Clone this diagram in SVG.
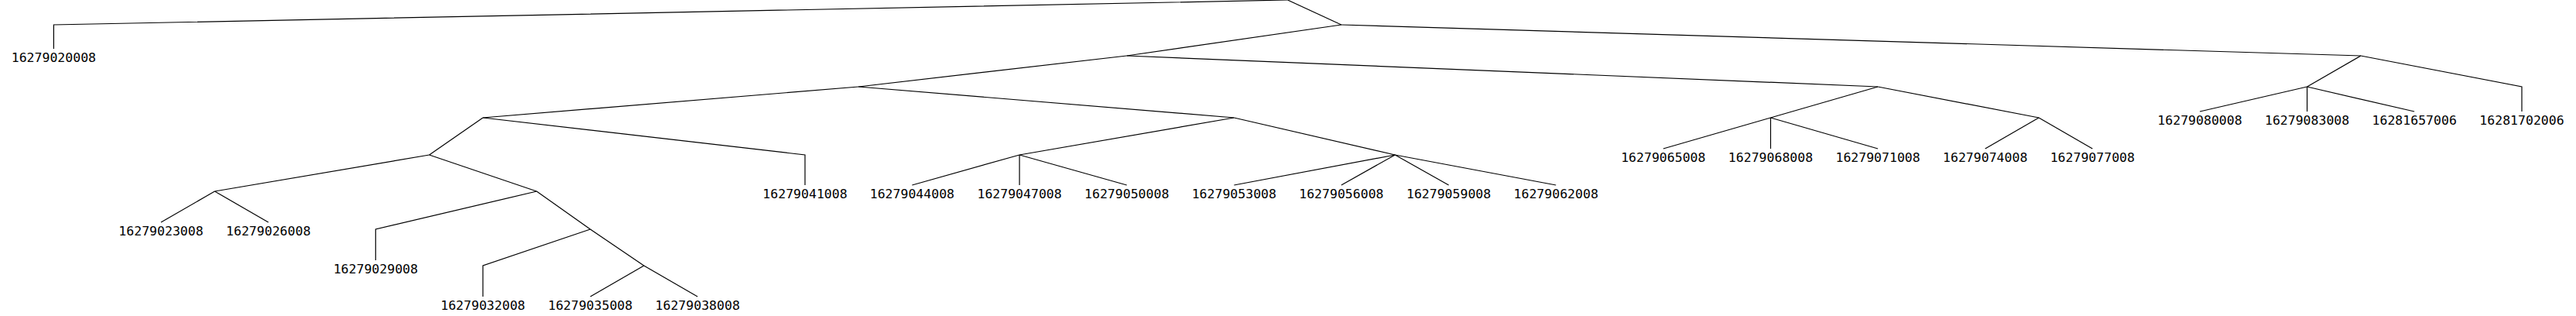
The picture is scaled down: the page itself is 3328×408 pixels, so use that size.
<svg xmlns="http://www.w3.org/2000/svg" width="3328" height="408" viewBox="0 0 3328 408">
<style>
.e{fill:none;stroke:#000;stroke-width:1.2}
.l{font-family:"DejaVu Sans Mono","Liberation Mono",monospace;font-size:16.5px;fill:#000;text-anchor:middle}
</style>
<rect width="3328" height="408" fill="#fff"/>
<g id="connectors">
<polyline class="e" points="1663.5,0 69.4,32 69.4,63"/>
<line class="e" x1="1663.5" y1="0" x2="1732.9" y2="32"/>
<line class="e" x1="1732.9" y1="32" x2="1455.7" y2="72"/>
<line class="e" x1="1732.9" y1="32" x2="3049.9" y2="72"/>
<line class="e" x1="1455.7" y1="72" x2="1109.1" y2="112"/>
<line class="e" x1="1455.7" y1="72" x2="2426.1" y2="112"/>
<line class="e" x1="1109.1" y1="112" x2="623.9" y2="152"/>
<line class="e" x1="1109.1" y1="112" x2="1594.3" y2="152"/>
<line class="e" x1="623.9" y1="152" x2="554.6" y2="200"/>
<polyline class="e" points="623.9,152 1040,200 1040,239"/>
<line class="e" x1="554.6" y1="200" x2="277.4" y2="247"/>
<line class="e" x1="554.6" y1="200" x2="693.3" y2="247"/>
<line class="e" x1="277.4" y1="247" x2="208" y2="287"/>
<line class="e" x1="277.4" y1="247" x2="346.7" y2="287"/>
<polyline class="e" points="693.3,247 485.3,296 485.3,336"/>
<line class="e" x1="693.3" y1="247" x2="762.6" y2="296"/>
<polyline class="e" points="762.6,296 623.9,343 623.9,383"/>
<line class="e" x1="762.6" y1="296" x2="831.9" y2="343"/>
<line class="e" x1="831.9" y1="343" x2="762.6" y2="383"/>
<line class="e" x1="831.9" y1="343" x2="901.2" y2="383"/>
<line class="e" x1="1594.3" y1="152" x2="1317.1" y2="200"/>
<line class="e" x1="1594.3" y1="152" x2="1802.3" y2="200"/>
<line class="e" x1="1317.1" y1="200" x2="1178.4" y2="239"/>
<line class="e" x1="1317.1" y1="200" x2="1317.1" y2="239"/>
<line class="e" x1="1317.1" y1="200" x2="1455.7" y2="239"/>
<line class="e" x1="1802.3" y1="200" x2="1594.3" y2="239"/>
<line class="e" x1="1802.3" y1="200" x2="1732.9" y2="239"/>
<line class="e" x1="1802.3" y1="200" x2="1871.6" y2="239"/>
<line class="e" x1="1802.3" y1="200" x2="2010.2" y2="239"/>
<line class="e" x1="2426.1" y1="112" x2="2287.5" y2="152"/>
<line class="e" x1="2426.1" y1="112" x2="2634" y2="152"/>
<line class="e" x1="2287.5" y1="152" x2="2148.8" y2="192"/>
<line class="e" x1="2287.5" y1="152" x2="2287.5" y2="192"/>
<line class="e" x1="2287.5" y1="152" x2="2426.1" y2="192"/>
<line class="e" x1="2634" y1="152" x2="2564.7" y2="192"/>
<line class="e" x1="2634" y1="152" x2="2703.3" y2="192"/>
<line class="e" x1="3049.9" y1="72" x2="2980.6" y2="112"/>
<polyline class="e" points="3049.9,72 3258,112 3258,144"/>
<line class="e" x1="2980.6" y1="112" x2="2842" y2="144"/>
<line class="e" x1="2980.6" y1="112" x2="2980.6" y2="144"/>
<line class="e" x1="2980.6" y1="112" x2="3119.2" y2="144"/>
</g>
<g id="n16279020008"><text class="l" x="69.4" y="80">16279020008</text></g>
<g id="n16279023008"><text class="l" x="208" y="304">16279023008</text></g>
<g id="n16279026008"><text class="l" x="346.7" y="304">16279026008</text></g>
<g id="n16279029008"><text class="l" x="485.3" y="353">16279029008</text></g>
<g id="n16279032008"><text class="l" x="623.9" y="400">16279032008</text></g>
<g id="n16279035008"><text class="l" x="762.6" y="400">16279035008</text></g>
<g id="n16279038008"><text class="l" x="901.2" y="400">16279038008</text></g>
<g id="n16279041008"><text class="l" x="1040" y="256">16279041008</text></g>
<g id="n16279044008"><text class="l" x="1178.4" y="256">16279044008</text></g>
<g id="n16279047008"><text class="l" x="1317.1" y="256">16279047008</text></g>
<g id="n16279050008"><text class="l" x="1455.7" y="256">16279050008</text></g>
<g id="n16279053008"><text class="l" x="1594.3" y="256">16279053008</text></g>
<g id="n16279056008"><text class="l" x="1732.9" y="256">16279056008</text></g>
<g id="n16279059008"><text class="l" x="1871.6" y="256">16279059008</text></g>
<g id="n16279062008"><text class="l" x="2010.2" y="256">16279062008</text></g>
<g id="n16279065008"><text class="l" x="2148.8" y="209">16279065008</text></g>
<g id="n16279068008"><text class="l" x="2287.5" y="209">16279068008</text></g>
<g id="n16279071008"><text class="l" x="2426.1" y="209">16279071008</text></g>
<g id="n16279074008"><text class="l" x="2564.7" y="209">16279074008</text></g>
<g id="n16279077008"><text class="l" x="2703.3" y="209">16279077008</text></g>
<g id="n16279080008"><text class="l" x="2842" y="161">16279080008</text></g>
<g id="n16279083008"><text class="l" x="2980.6" y="161">16279083008</text></g>
<g id="n16281657006"><text class="l" x="3119.2" y="161">16281657006</text></g>
<g id="n16281702006"><text class="l" x="3258" y="161">16281702006</text></g>
</svg>
